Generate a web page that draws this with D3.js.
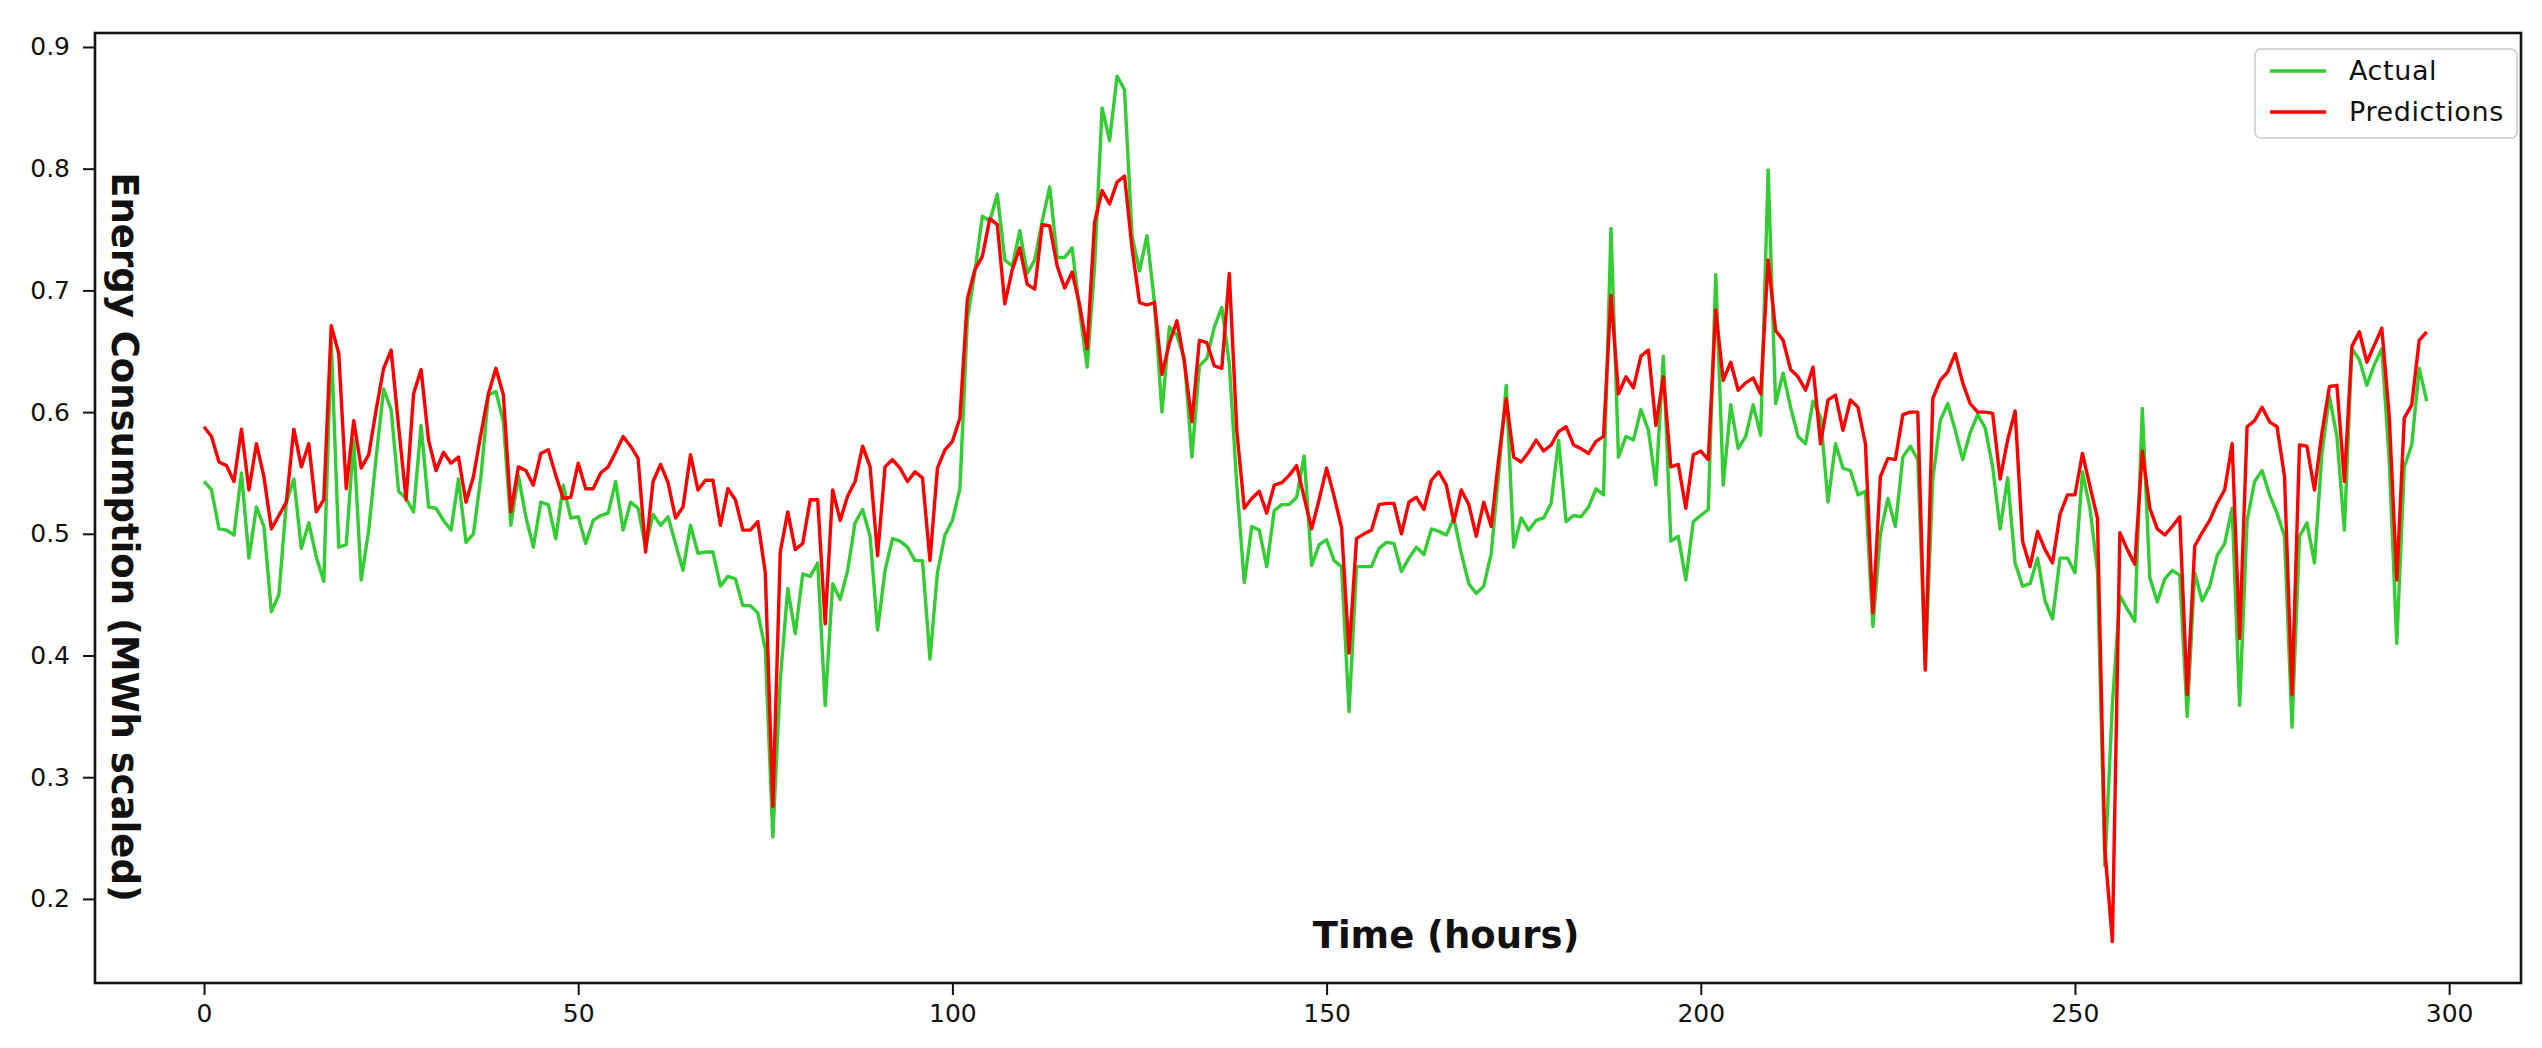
<!DOCTYPE html>
<html>
<head>
<meta charset="utf-8">
<script src="https://cdn.jsdelivr.net/npm/d3@7"></script>
<style>
  html, body { margin: 0; padding: 0; background: #fff; }
  svg { display: block; }
  text { font-family: "DejaVu Sans", sans-serif; }
</style>
</head>
<body>
<svg id="chart" width="2542" height="1048"></svg>
<script>
// ---- data ----
const actual = [
0.543,0.536,0.504,0.503,0.499,0.550,0.480,0.522,0.506,0.436,
0.450,0.526,0.545,0.488,0.509,0.481,0.461,0.658,0.489,0.491,
0.577,0.462,0.503,0.563,0.619,0.602,0.535,0.529,0.518,0.589,
0.522,0.521,0.511,0.503,0.545,0.493,0.500,0.547,0.614,0.617,
0.592,0.507,0.548,0.514,0.489,0.526,0.524,0.496,0.540,0.513,
0.514,0.492,0.511,0.515,0.517,0.543,0.503,0.526,0.521,0.489,
0.516,0.507,0.514,0.492,0.470,0.507,0.484,0.485,0.485,0.457,
0.465,0.463,0.441,0.441,0.435,0.405,0.251,0.380,0.455,0.418,
0.467,0.465,0.476,0.359,0.459,0.446,0.470,0.509,0.520,0.498,
0.421,0.470,0.496,0.494,0.489,0.478,0.478,0.397,0.468,0.499,
0.511,0.537,0.676,0.715,0.761,0.757,0.779,0.725,0.720,0.749,
0.714,0.725,0.757,0.785,0.727,0.727,0.735,0.683,0.637,0.720,
0.850,0.823,0.876,0.865,0.745,0.716,0.745,0.690,0.600,0.670,
0.663,0.644,0.563,0.638,0.644,0.670,0.686,0.640,0.540,0.460,
0.506,0.503,0.473,0.519,0.524,0.524,0.530,0.564,0.474,0.491,
0.495,0.478,0.473,0.354,0.473,0.473,0.473,0.488,0.493,0.492,
0.469,0.480,0.489,0.483,0.504,0.502,0.499,0.513,0.484,0.459,
0.451,0.457,0.484,0.550,0.622,0.489,0.513,0.503,0.511,0.513,
0.525,0.577,0.510,0.515,0.514,0.522,0.537,0.532,0.751,0.563,
0.580,0.577,0.602,0.585,0.540,0.646,0.494,0.498,0.462,0.510,
0.515,0.520,0.713,0.540,0.606,0.570,0.580,0.606,0.581,0.799,
0.607,0.632,0.604,0.580,0.574,0.609,0.596,0.526,0.574,0.554,
0.552,0.532,0.535,0.424,0.500,0.529,0.506,0.563,0.572,0.561,
0.390,0.545,0.593,0.607,0.585,0.561,0.583,0.598,0.587,0.555,
0.504,0.546,0.476,0.457,0.459,0.480,0.445,0.430,0.480,0.480,
0.468,0.551,0.521,0.470,0.227,0.360,0.449,0.438,0.428,0.603,
0.464,0.444,0.463,0.470,0.466,0.350,0.468,0.445,0.457,0.482,
0.492,0.521,0.359,0.511,0.543,0.552,0.532,0.517,0.498,0.341,
0.498,0.509,0.476,0.566,0.613,0.580,0.503,0.652,0.643,0.622,
0.639,0.652,0.560,0.410,0.555,0.573,0.636,0.609
];
const predictions = [
0.588,0.580,0.559,0.556,0.543,0.586,0.536,0.574,0.547,0.504,
0.515,0.526,0.586,0.555,0.574,0.518,0.528,0.671,0.648,0.537,
0.593,0.554,0.565,0.602,0.636,0.651,0.588,0.528,0.615,0.635,
0.577,0.552,0.567,0.558,0.563,0.526,0.547,0.582,0.615,0.636,
0.614,0.518,0.555,0.552,0.540,0.566,0.569,0.548,0.529,0.530,
0.558,0.537,0.537,0.550,0.555,0.567,0.580,0.572,0.562,0.485,
0.543,0.557,0.542,0.513,0.522,0.565,0.536,0.544,0.544,0.507,
0.537,0.528,0.503,0.503,0.510,0.468,0.276,0.485,0.518,0.487,
0.492,0.528,0.528,0.426,0.536,0.511,0.531,0.543,0.572,0.555,
0.482,0.555,0.561,0.554,0.543,0.551,0.546,0.478,0.554,0.569,
0.576,0.595,0.693,0.717,0.728,0.759,0.754,0.689,0.717,0.735,
0.705,0.701,0.754,0.753,0.720,0.702,0.715,0.688,0.652,0.756,
0.782,0.771,0.789,0.794,0.735,0.690,0.688,0.690,0.631,0.657,
0.675,0.641,0.592,0.659,0.657,0.638,0.636,0.714,0.585,0.521,
0.529,0.535,0.517,0.540,0.542,0.548,0.556,0.530,0.504,0.528,
0.554,0.531,0.505,0.402,0.496,0.500,0.503,0.524,0.525,0.525,
0.500,0.526,0.530,0.520,0.544,0.551,0.540,0.510,0.536,0.524,
0.498,0.526,0.506,0.562,0.611,0.563,0.559,0.567,0.577,0.568,
0.573,0.584,0.588,0.573,0.570,0.566,0.576,0.580,0.696,0.615,
0.629,0.620,0.646,0.651,0.589,0.629,0.555,0.557,0.521,0.565,
0.568,0.561,0.684,0.626,0.641,0.618,0.624,0.628,0.615,0.725,
0.667,0.659,0.635,0.629,0.618,0.637,0.574,0.610,0.614,0.585,
0.610,0.604,0.574,0.435,0.547,0.562,0.561,0.598,0.600,0.600,
0.388,0.611,0.626,0.633,0.648,0.624,0.607,0.600,0.600,0.599,
0.545,0.577,0.601,0.494,0.473,0.502,0.487,0.476,0.516,0.532,
0.532,0.566,0.539,0.513,0.240,0.165,0.501,0.487,0.475,0.568,
0.521,0.504,0.499,0.506,0.514,0.368,0.490,0.501,0.511,0.525,
0.536,0.574,0.414,0.588,0.593,0.604,0.592,0.588,0.547,0.368,
0.573,0.572,0.536,0.583,0.621,0.622,0.543,0.654,0.666,0.641,
0.655,0.669,0.596,0.462,0.595,0.606,0.659,0.666
];
const xTicks = [0, 50, 100, 150, 200, 250, 300];
const yTicks = [0.2, 0.3, 0.4, 0.5, 0.6, 0.7, 0.8, 0.9];
const seriesNames = ["Actual", "Predictions"];
const seriesColors = ["#32cd32", "#ff0000"];
const xLabel = "Time (hours)";
const yLabel = "Energy Consumption (MWh scaled)";

// ---- layout ----
const L = 95, R = 2521, T = 33, B = 983;
const svg = d3.select("#chart");

const x = d3.scaleLinear().domain([-14.57, 309.6]).range([L, R]);
const y = d3.scaleLinear().domain([0.1309, 0.9115]).range([B, T]);

// axes
const gx = svg.append("g").attr("transform", `translate(0,${B})`)
  .call(d3.axisBottom(x).tickValues(xTicks).tickFormat(d3.format("d"))
    .tickSize(12).tickSizeOuter(0).tickPadding(9));
const gy = svg.append("g").attr("transform", `translate(${L},0)`)
  .call(d3.axisLeft(y).tickValues(yTicks).tickFormat(d3.format(".1f"))
    .tickSize(12).tickSizeOuter(0).tickPadding(13));
[gx, gy].forEach(g => {
  g.select(".domain").remove();
  g.selectAll(".tick line").attr("stroke", "#111").attr("stroke-width", 2);
  g.selectAll(".tick text").attr("font-size", 25).attr("fill", "#111")
    .style("font-family", "'DejaVu Sans', sans-serif");
});

// lines
const line = d3.line().x((d, i) => x(i)).y(d => y(d));
const plot = svg.append("g");
[actual, predictions].forEach((s, k) => {
  plot.append("path").datum(s)
    .attr("fill", "none")
    .attr("stroke", seriesColors[k])
    .attr("stroke-width", 3.4)
    .attr("stroke-linejoin", "round")
    .attr("d", line);
});

// frame
svg.append("rect").attr("x", L).attr("y", T).attr("width", R - L).attr("height", B - T)
  .attr("fill", "none").attr("stroke", "#111").attr("stroke-width", 2.6);

// axis labels (inside plot)
svg.append("text").attr("x", 1446).attr("y", 948)
  .attr("text-anchor", "middle").attr("font-size", 37).attr("font-weight", "bold")
  .attr("fill", "#111").text(xLabel);
svg.append("text")
  .attr("transform", `translate(112,537) rotate(90)`)
  .attr("text-anchor", "middle").attr("font-size", 37).attr("font-weight", "bold")
  .attr("fill", "#111").text(yLabel);

// legend
const lg = svg.append("g").attr("transform", "translate(2255,49)");
lg.append("rect").attr("width", 262).attr("height", 89).attr("rx", 6)
  .attr("fill", "#fff").attr("fill-opacity", 0.8).attr("stroke", "#ccc").attr("stroke-width", 1.6);
seriesNames.forEach((n, k) => {
  const yy = 22 + k * 41;
  lg.append("line").attr("x1", 15).attr("x2", 71).attr("y1", yy).attr("y2", yy)
    .attr("stroke", seriesColors[k]).attr("stroke-width", 3.4);
  lg.append("text").attr("x", 94).attr("y", yy).attr("dy", "0.35em")
    .attr("font-size", 27).attr("letter-spacing", 0.6).attr("fill", "#111").text(n);
});
</script>
</body>
</html>
